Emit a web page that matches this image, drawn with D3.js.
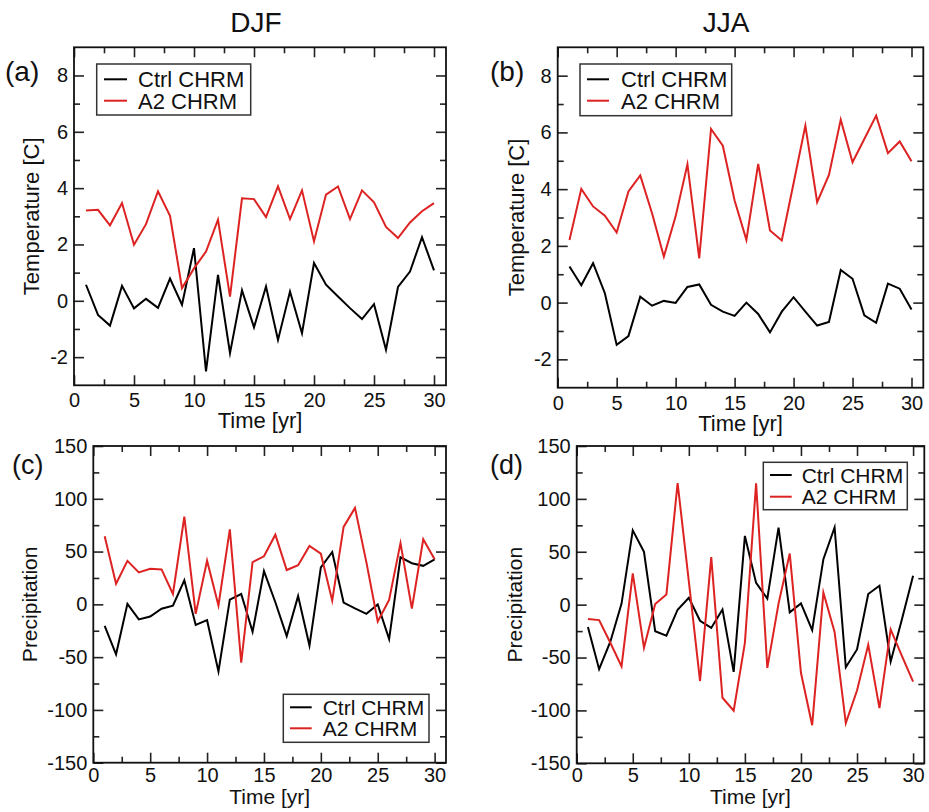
<!DOCTYPE html>
<html>
<head>
<meta charset="utf-8">
<script src="https://cdn.jsdelivr.net/npm/d3@7"></script>
<style>
  html, body { margin: 0; padding: 0; background: #fff; }
  svg { display: block; font-family: "Liberation Sans", Arial, Helvetica, sans-serif; }
</style>
</head>
<body>
<svg id="chart" width="929" height="812"></svg>
<script>
// ---------------- data ----------------
const years = [1,2,3,4,5,6,7,8,9,10,11,12,13,14,15,16,17,18,19,20,21,22,23,24,25,26,27,28,29,30];

const seriesNames = ["Ctrl CHRM", "A2 CHRM"];
const seriesColors = ["#000000", "#dd2222"];

// (a) DJF temperature
const djfTempCtrl = [0.57,-0.5,-0.88,0.53,-0.27,0.07,-0.25,0.79,-0.14,1.87,-2.51,0.92,-1.86,0.37,-0.94,0.51,-1.39,0.33,-1.15,1.34,0.57,0.15,-0.26,-0.65,-0.12,-1.74,0.49,1.04,2.26,1.08];
const djfTempA2   = [3.21,3.23,2.68,3.47,1.99,2.72,3.89,3.02,0.45,1.15,1.75,2.88,0.15,3.64,3.61,2.97,4.06,2.9,3.92,2.11,3.77,4.06,2.9,3.92,3.5,2.62,2.23,2.78,3.18,3.47];
// (b) JJA temperature
const jjaTempCtrl = [1.27,0.61,1.39,0.33,-1.49,-1.18,0.21,-0.11,0.06,-0.01,0.55,0.64,-0.08,-0.32,-0.47,0.0,-0.4,-1.05,-0.32,0.19,-0.32,-0.81,-0.68,1.15,0.84,-0.45,-0.71,0.67,0.49,-0.24];
const jjaTempA2   = [2.21,4.01,3.39,3.06,2.47,3.92,4.48,3.15,1.62,3.04,4.88,1.56,6.12,5.53,3.6,2.21,4.89,2.54,2.19,4.21,6.24,3.54,4.5,6.45,4.95,5.77,6.59,5.27,5.68,4.98];
// (c) DJF precipitation
const djfPrecCtrl = [-20.5,-47.3,0.5,-14.3,-11.5,-4.1,-1.2,22.8,-19.5,-15,-63.5,4.5,9.8,-26,31.5,2,-30,7.8,-39,35,49.6,1.7,-3.8,-9,-0.2,-33,44.5,39,36.5,42.5];
const djfPrecA2   = [64.5,19.5,41.2,30.2,33.7,33.1,9.8,83,-9,41.3,-1,71,-55.3,40,45.5,66,32.5,37,55.3,48,3.5,73.4,91.4,40,-16.2,4.2,58,-4,61.7,42.8];
// (d) JJA precipitation
const jjaPrecCtrl = [-21.1,-61,-35,1,70.2,50,-25.2,-29.3,-4.8,6.5,-15.2,-22,-4.5,-63.6,65,20.6,5.7,72.8,-7.3,1.2,-24,43,73,-59.2,-42.4,10.1,17.9,-53.9,-14,27.4];
const jjaPrecA2   = [-13.5,-14.6,-36,-58.4,29.6,-40.8,0.6,9.7,115,22,-72.2,45,-88,-100.2,-36.1,114.7,-59.8,1,48.3,-64.4,-114,11.4,-25.8,-112,-81.2,-38,-97.9,-23.4,-48.5,-72.7];

// tick values
const timeTicks = [0,5,10,15,20,25,30];
const timeMinorTicks = [2.5,7.5,12.5,17.5,22.5,27.5];
const tempTicks = [-2,0,2,4,6,8];
const tempMinorTicks = [-1,1,3,5,7];
const precTicks = [-150,-100,-50,0,50,100,150];
const precMinorTicks = [-125,-75,-25,25,75,125];

const columnTitles = ["DJF", "JJA"];
const panelLetters = ["(a)", "(b)", "(c)", "(d)"];
const xTitle = "Time [yr]";
const yTitles = ["Temperature [C]", "Precipitation"];

// ---------------- layout ----------------
const panels = [
  { letter: panelLetters[0], series: [djfTempCtrl, djfTempA2], yDomain: [-3, 9], yTicks: tempTicks, yMinor: tempMinorTicks, yTitle: yTitles[0],
    L: 74, R: 446, T: 47.3, B: 385.3, letterX: 5, letterY: 81, letterSize: 28, yTitleX: 39, yTitleSize: 22, xTitleDy: 43, xTitleSize: 22, xPad: 8,
    leg: { x: 96.7, y: 64, w: 154, h: 51, l1: 15.3, l2: 36.7, lineX0: 7.3, lineX1: 30.3, textX: 41.3, fs: 22 } },
  { letter: panelLetters[1], series: [jjaTempCtrl, jjaTempA2], yDomain: [-3, 9], yTicks: tempTicks, yMinor: tempMinorTicks, yTitle: yTitles[0],
    L: 557.7, R: 923.3, T: 47.3, B: 387.7, letterX: 490, letterY: 81, letterSize: 28, yTitleX: 523.5, yTitleSize: 22, xTitleDy: 43, xTitleSize: 22, xPad: 8,
    leg: { x: 580, y: 64, w: 151.7, h: 51.7, l1: 15.3, l2: 36.7, lineX0: 7, lineX1: 29, textX: 41, fs: 22 } },
  { letter: panelLetters[2], series: [djfPrecCtrl, djfPrecA2], yDomain: [-150, 150], yTicks: precTicks, yMinor: precMinorTicks, yTitle: yTitles[1],
    L: 93.3, R: 446, T: 446, B: 762.7, letterX: 12, letterY: 473.5, letterSize: 27, yTitleX: 36.5, yTitleSize: 21, xTitleDy: 41, xTitleSize: 21, xPad: 5,
    leg: { x: 283.3, y: 694.3, w: 145.7, h: 48, l1: 13, l2: 34, lineX0: 6.7, lineX1: 28.4, textX: 39.4, fs: 21 } },
  { letter: panelLetters[3], series: [jjaPrecCtrl, jjaPrecA2], yDomain: [-150, 150], yTicks: precTicks, yMinor: precMinorTicks, yTitle: yTitles[1],
    L: 576.7, R: 924.3, T: 446, B: 763.3, letterX: 490, letterY: 473.5, letterSize: 27, yTitleX: 521.5, yTitleSize: 21, xTitleDy: 41, xTitleSize: 21, xPad: 5,
    leg: { x: 763.3, y: 462.3, w: 144, h: 47.4, l1: 12.7, l2: 34.4, lineX0: 6.7, lineX1: 28.4, textX: 38.4, fs: 21 } }
];

const svg = d3.select("#chart");

// column titles
svg.append("text").attr("x", 256).attr("y", 31.5).attr("text-anchor", "middle")
  .attr("font-size", 28).attr("fill", "#111").text(columnTitles[0]);
svg.append("text").attr("x", 726).attr("y", 31.5).attr("text-anchor", "middle")
  .attr("font-size", 28).attr("fill", "#111").text(columnTitles[1]);

const fmt = d => String(d);

panels.forEach(p => {
  const W = p.R - p.L, H = p.B - p.T;
  const x = d3.scaleLinear().domain([0, 31]).range([0, W]);
  const y = d3.scaleLinear().domain(p.yDomain).range([H, 0]);
  const g = svg.append("g").attr("transform", `translate(${p.L},${p.T})`);

  const styleAxis = sel => {
    sel.select(".domain").remove();
    sel.selectAll(".tick line").attr("stroke", "#222").attr("stroke-width", 1.6);
    sel.selectAll(".tick text").attr("fill", "#111").attr("font-size", 20)
      .attr("font-family", "Liberation Sans, Arial, sans-serif");
  };

  // bottom axis (labels) + minor
  g.append("g").attr("transform", `translate(0,${H})`)
    .call(d3.axisBottom(x).tickValues(timeTicks).tickFormat(fmt).tickSizeInner(-10).tickSizeOuter(0).tickPadding(p.xPad))
    .call(styleAxis);
  g.append("g").attr("transform", `translate(0,${H})`)
    .call(d3.axisBottom(x).tickValues(timeMinorTicks).tickFormat("").tickSizeInner(-6).tickSizeOuter(0))
    .call(styleAxis);
  // top axis (mirror)
  g.append("g")
    .call(d3.axisTop(x).tickValues(timeTicks).tickFormat("").tickSizeInner(-10).tickSizeOuter(0))
    .call(styleAxis);
  g.append("g")
    .call(d3.axisTop(x).tickValues(timeMinorTicks).tickFormat("").tickSizeInner(-6).tickSizeOuter(0))
    .call(styleAxis);
  // left axis
  g.append("g")
    .call(d3.axisLeft(y).tickValues(p.yTicks).tickFormat(fmt).tickSizeInner(-10).tickSizeOuter(0).tickPadding(6))
    .call(styleAxis);
  g.append("g")
    .call(d3.axisLeft(y).tickValues(p.yMinor).tickFormat("").tickSizeInner(-6).tickSizeOuter(0))
    .call(styleAxis);
  // right axis (mirror)
  g.append("g").attr("transform", `translate(${W},0)`)
    .call(d3.axisRight(y).tickValues(p.yTicks).tickFormat("").tickSizeInner(-10).tickSizeOuter(0))
    .call(styleAxis);
  g.append("g").attr("transform", `translate(${W},0)`)
    .call(d3.axisRight(y).tickValues(p.yMinor).tickFormat("").tickSizeInner(-6).tickSizeOuter(0))
    .call(styleAxis);

  // series lines
  const line = d3.line().x((d, i) => x(years[i])).y(d => y(d));
  p.series.forEach((s, k) => {
    g.append("path").datum(s).attr("d", line)
      .attr("fill", "none").attr("stroke", seriesColors[k]).attr("stroke-width", 2)
      .attr("stroke-linejoin", "miter").attr("stroke-miterlimit", 6);
  });

  // frame
  g.append("rect").attr("x", 0).attr("y", 0).attr("width", W).attr("height", H)
    .attr("fill", "none").attr("stroke", "#111").attr("stroke-width", 1.8);

  // legend
  const lg = svg.append("g").attr("transform", `translate(${p.leg.x},${p.leg.y})`);
  lg.append("rect").attr("width", p.leg.w).attr("height", p.leg.h)
    .attr("fill", "#fff").attr("stroke", "#333").attr("stroke-width", 1.5);
  [p.leg.l1, p.leg.l2].forEach((ly, k) => {
    lg.append("line").attr("x1", p.leg.lineX0).attr("x2", p.leg.lineX1).attr("y1", ly).attr("y2", ly)
      .attr("stroke", seriesColors[k]).attr("stroke-width", 2);
    lg.append("text").attr("x", p.leg.textX).attr("y", ly).attr("dy", "0.36em")
      .attr("font-size", p.leg.fs).attr("fill", "#111").text(seriesNames[k]);
  });

  // axis titles
  svg.append("text").attr("x", p.L + W / 2).attr("y", p.B + p.xTitleDy).attr("text-anchor", "middle")
    .attr("font-size", p.xTitleSize).attr("fill", "#111").text(xTitle);
  svg.append("text").attr("transform", `translate(${p.yTitleX},${p.T + H / 2}) rotate(-90)`)
    .attr("text-anchor", "middle").attr("font-size", p.yTitleSize).attr("fill", "#111").text(p.yTitle);

  // panel letter
  svg.append("text").attr("x", p.letterX).attr("y", p.letterY)
    .attr("font-size", p.letterSize).attr("fill", "#111").text(p.letter);
});
</script>
</body>
</html>
